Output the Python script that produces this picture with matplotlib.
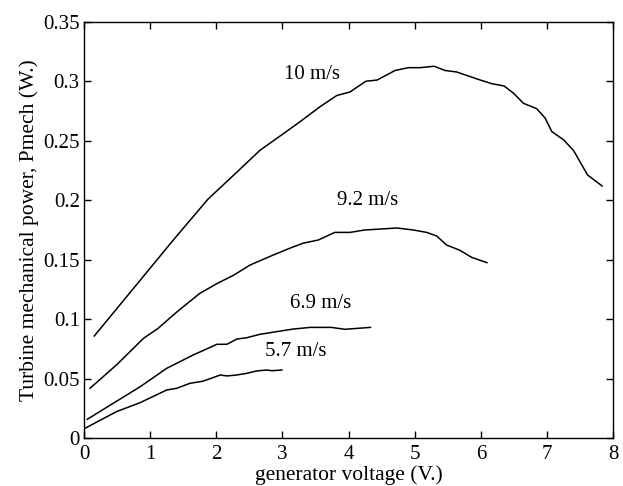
import matplotlib
matplotlib.use("Agg")
import matplotlib.pyplot as plt
from matplotlib.ticker import FuncFormatter

plt.rcParams['font.family'] = ['Liberation Serif', 'DejaVu Serif']

# 10 m/s
v10 = [0.156, 1.35, 1.875, 2.26, 2.66, 3.04, 3.265, 3.57, 3.82, 4.02, 4.26, 4.43,
       4.70, 4.90, 5.08, 5.29, 5.46, 5.63, 5.99, 6.16, 6.35, 6.49, 6.64, 6.84,
       6.97, 7.07, 7.25, 7.40, 7.61, 7.83]
p10 = [0.086, 0.1666, 0.201, 0.221, 0.242, 0.257, 0.266, 0.2787, 0.288, 0.291,
       0.300, 0.301, 0.309, 0.3114, 0.3114, 0.3126, 0.309, 0.3078, 0.301, 0.298,
       0.296, 0.290, 0.2815, 0.277, 0.269, 0.2577, 0.2507, 0.2417, 0.2213, 0.212]

# 9.2 m/s
v92 = [0.09, 0.49, 0.90, 1.12, 1.40, 1.75, 2.01, 2.26, 2.51, 2.86, 3.11, 3.31,
       3.54, 3.79, 4.02, 4.24, 4.73, 4.98, 5.18, 5.33, 5.48, 5.68, 5.86, 6.09]
p92 = [0.042, 0.0616, 0.084, 0.0924, 0.106, 0.1218, 0.130, 0.137, 0.1456, 0.154,
       0.1597, 0.1639, 0.1666, 0.173, 0.173, 0.175, 0.1767, 0.175, 0.173, 0.170,
       0.1624, 0.158, 0.152, 0.1476]

# 6.9 m/s
v69 = [0.05, 0.85, 1.25, 1.65, 2.01, 2.16, 2.31, 2.46, 2.66, 2.91, 3.16, 3.42,
       3.74, 3.94, 4.33]
p69 = [0.016, 0.0434, 0.0588, 0.070, 0.079, 0.079, 0.0834, 0.0845, 0.0874, 0.0896,
       0.0918, 0.0932, 0.0932, 0.0916, 0.0932]

# 5.7 m/s
v57 = [0.015, 0.49, 0.85, 1.25, 1.40, 1.60, 1.80, 2.06, 2.16, 2.31, 2.46, 2.61,
       2.76, 2.84, 2.99]
p57 = [0.0084, 0.0224, 0.030, 0.0406, 0.042, 0.0462, 0.048, 0.0532, 0.0524, 0.0532,
       0.0546, 0.0566, 0.0574, 0.0568, 0.0574]

labels = ['10 m/s', '9.2 m/s', '6.9 m/s', '5.7 m/s']
label_x = [3.02, 3.82, 3.11, 2.74]
label_y = [0.306, 0.200, 0.113, 0.0727]

fig = plt.figure(figsize=(6.23, 4.86), dpi=100)
ax = fig.add_axes([0.1348, 0.0981, 0.8497, 0.8572])

for v, p in [(v10, p10), (v92, p92), (v69, p69), (v57, p57)]:
    ax.plot(v, p, color='black', lw=1.1)

for t, x, y in zip(labels, label_x, label_y):
    ax.text(x, y, t, fontsize=15, va='center', ha='left')

ax.set_xlim(0, 8)
ax.set_ylim(0, 0.35)
ax.set_xticks(range(0, 9))
ax.set_yticks([0, 0.05, 0.1, 0.15, 0.2, 0.25, 0.3, 0.35])
ax.yaxis.set_major_formatter(FuncFormatter(lambda y, pos: '%g' % round(y, 2)))
ax.tick_params(direction='in', top=True, right=True, length=5, labelsize=15,
               width=1, pad=3)
ax.tick_params(axis='x', pad=5)
for s in ax.spines.values():
    s.set_linewidth(1)

ax.set_xlabel('generator voltage (V.)', fontsize=15.5, labelpad=1)
ax.set_ylabel('Turbine mechanical power, Pmech (W.)', fontsize=15.5, labelpad=3)

fig.savefig('out.png', dpi=100)
